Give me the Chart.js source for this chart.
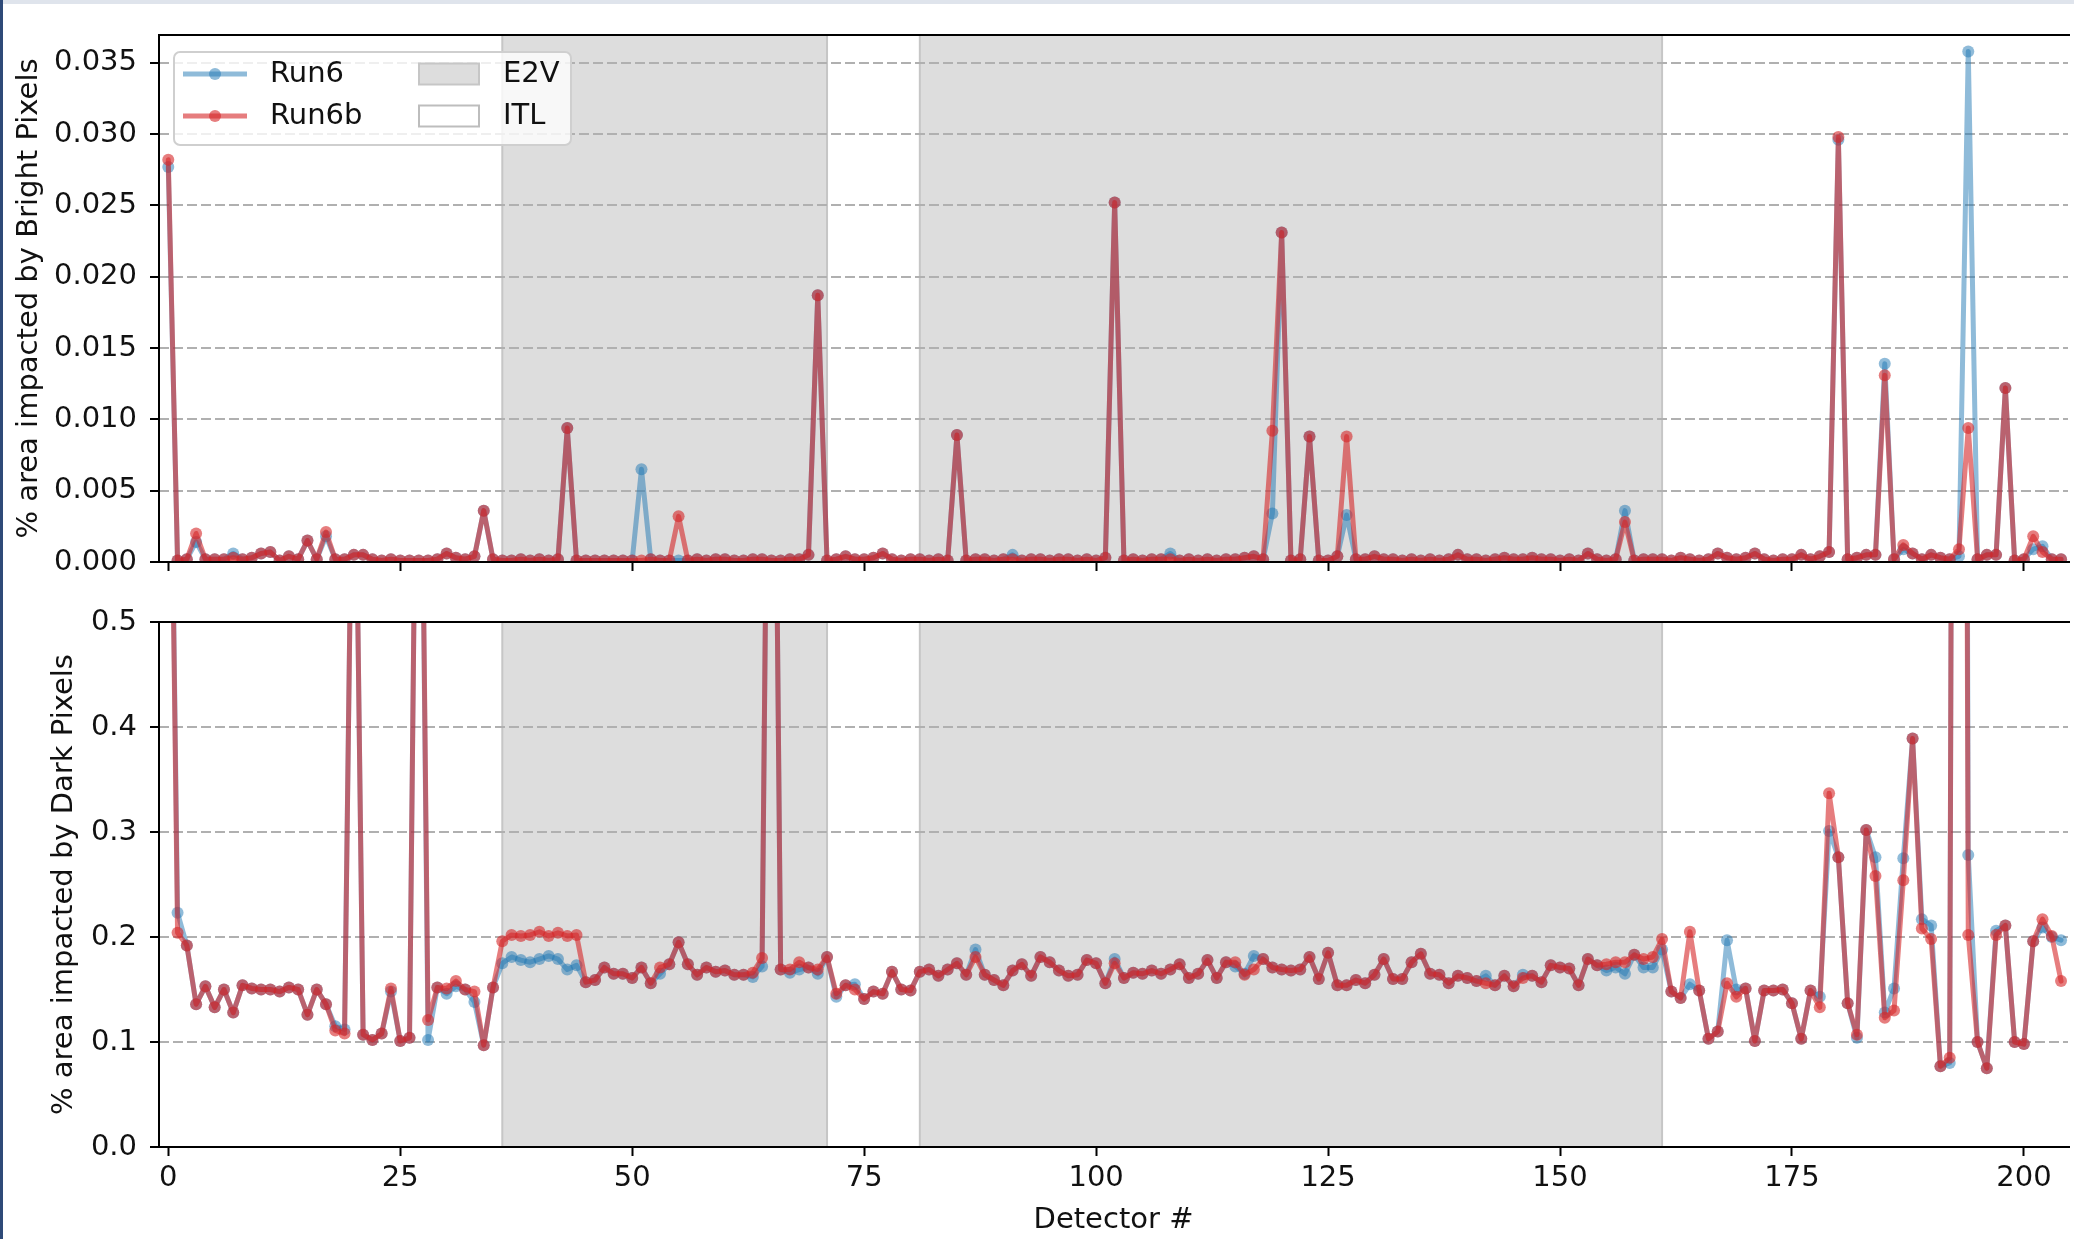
<!DOCTYPE html>
<html>
<head>
<meta charset="utf-8">
<script src="https://cdn.jsdelivr.net/npm/chart.js@4.4.1/dist/chart.umd.min.js"></script>
<style>
  html, body { margin: 0; padding: 0; background: #fff; }
  body { width: 2074px; height: 1239px; position: relative; overflow: hidden; }
  canvas { position: absolute; left: 0; }
  #top { top: 0; }
  #bottom { top: 591px; }
  #edgeTop { position: absolute; left: 0; top: 0; width: 2074px; height: 4px; background: #dfe4ec; }
  #edgeLeft { position: absolute; left: 0; top: 0; width: 3px; height: 1239px; background: #2e4a78; }
</style>
</head>
<body>
<canvas id="top" width="2074" height="582"></canvas>
<canvas id="bottom" width="2074" height="648"></canvas>
<div id="edgeTop"></div>
<div id="edgeLeft"></div>
<script>
// detector index 0..204
const detectors = []
for (let i = 0; i <= 204; i++) detectors.push(i)

const seriesNames = ['Run6', 'Run6b']

// % area impacted by bright pixels
const brightRun6 = [
  0.0277, 0.0001, 0.0002, 0.0014, 0.0002, 0.0002, 0.0002, 0.0006, 0.0002, 0.0003,
  0.0006, 0.0007, 0.0001, 0.0004, 0.0002, 0.0015, 0.0002, 0.0018, 0.0002, 0.0002,
  0.0005, 0.0005, 0.0002, 0.0001, 0.0002, 0.0001, 0.0001, 0.0001, 0.0001, 0.0002,
  0.0006, 0.0003, 0.0002, 0.0004, 0.0036, 0.0002, 0.0001, 0.0001, 0.0002, 0.0001,
  0.0002, 0.0001, 0.0002, 0.0094, 0.0001, 0.0001, 0.0001, 0.0001, 0.0001, 0.0001,
  0.0001, 0.0065, 0.0002, 0.0001, 0.0001, 0.0001, 0.0001, 0.0002, 0.0001, 0.0002,
  0.0002, 0.0001, 0.0001, 0.0002, 0.0002, 0.0001, 0.0001, 0.0002, 0.0002, 0.0005,
  0.0187, 0.0001, 0.0002, 0.0004, 0.0002, 0.0002, 0.0003, 0.0006, 0.0002, 0.0001,
  0.0002, 0.0002, 0.0001, 0.0002, 0.0001, 0.0089, 0.0001, 0.0002, 0.0002, 0.0001,
  0.0002, 0.0005, 0.0001, 0.0002, 0.0002, 0.0001, 0.0002, 0.0002, 0.0001, 0.0002,
  0.0001, 0.0003, 0.0252, 0.0001, 0.0002, 0.0001, 0.0002, 0.0002, 0.0006, 0.0001,
  0.0002, 0.0001, 0.0002, 0.0001, 0.0002, 0.0002, 0.0003, 0.0004, 0.0002, 0.0034,
  0.0231, 0.0001, 0.0002, 0.0088, 0.0001, 0.0001, 0.0004, 0.0033, 0.0002, 0.0002,
  0.0004, 0.0002, 0.0002, 0.0001, 0.0002, 0.0001, 0.0002, 0.0001, 0.0002, 0.0005,
  0.0002, 0.0002, 0.0001, 0.0002, 0.0003, 0.0002, 0.0002, 0.0003, 0.0002, 0.0002,
  0.0001, 0.0002, 0.0001, 0.0006, 0.0002, 0.0001, 0.0002, 0.0036, 0.0001, 0.0002,
  0.0002, 0.0002, 0.0001, 0.0003, 0.0002, 0.0001, 0.0002, 0.0006, 0.0003, 0.0002,
  0.0003, 0.0006, 0.0002, 0.0001, 0.0002, 0.0002, 0.0005, 0.0002, 0.0004, 0.0007,
  0.0296, 0.0002, 0.0003, 0.0005, 0.0005, 0.0139, 0.0002, 0.0009, 0.0006, 0.0002,
  0.0005, 0.0003, 0.0002, 0.0004, 0.0358, 0.0002, 0.0005, 0.0005, 0.0122, 0.0001,
  0.0002, 0.0009, 0.0011, 0.0002, 0.0002
]
const brightRun6b = [
  0.0282, 0.0001, 0.0002, 0.0020, 0.0002, 0.0002, 0.0002, 0.0003, 0.0002, 0.0003,
  0.0006, 0.0007, 0.0001, 0.0004, 0.0002, 0.0015, 0.0002, 0.0021, 0.0002, 0.0002,
  0.0005, 0.0005, 0.0002, 0.0001, 0.0002, 0.0001, 0.0001, 0.0001, 0.0001, 0.0002,
  0.0006, 0.0003, 0.0002, 0.0004, 0.0036, 0.0002, 0.0001, 0.0001, 0.0002, 0.0001,
  0.0002, 0.0001, 0.0002, 0.0094, 0.0001, 0.0001, 0.0001, 0.0001, 0.0001, 0.0001,
  0.0001, 0.0001, 0.0002, 0.0001, 0.0001, 0.0032, 0.0001, 0.0002, 0.0001, 0.0002,
  0.0002, 0.0001, 0.0001, 0.0002, 0.0002, 0.0001, 0.0001, 0.0002, 0.0002, 0.0005,
  0.0187, 0.0001, 0.0002, 0.0004, 0.0002, 0.0002, 0.0003, 0.0006, 0.0002, 0.0001,
  0.0002, 0.0002, 0.0001, 0.0002, 0.0001, 0.0089, 0.0001, 0.0002, 0.0002, 0.0001,
  0.0002, 0.0002, 0.0001, 0.0002, 0.0002, 0.0001, 0.0002, 0.0002, 0.0001, 0.0002,
  0.0001, 0.0003, 0.0252, 0.0001, 0.0002, 0.0001, 0.0002, 0.0002, 0.0002, 0.0001,
  0.0002, 0.0001, 0.0002, 0.0001, 0.0002, 0.0002, 0.0003, 0.0004, 0.0002, 0.0092,
  0.0231, 0.0001, 0.0002, 0.0088, 0.0001, 0.0001, 0.0004, 0.0088, 0.0002, 0.0002,
  0.0004, 0.0002, 0.0002, 0.0001, 0.0002, 0.0001, 0.0002, 0.0001, 0.0002, 0.0005,
  0.0002, 0.0002, 0.0001, 0.0002, 0.0003, 0.0002, 0.0002, 0.0003, 0.0002, 0.0002,
  0.0001, 0.0002, 0.0001, 0.0006, 0.0002, 0.0001, 0.0002, 0.0028, 0.0001, 0.0002,
  0.0002, 0.0002, 0.0001, 0.0003, 0.0002, 0.0001, 0.0002, 0.0006, 0.0003, 0.0002,
  0.0003, 0.0006, 0.0002, 0.0001, 0.0002, 0.0002, 0.0005, 0.0002, 0.0004, 0.0007,
  0.0298, 0.0002, 0.0003, 0.0005, 0.0005, 0.0131, 0.0002, 0.0012, 0.0006, 0.0002,
  0.0005, 0.0003, 0.0002, 0.0009, 0.0094, 0.0002, 0.0005, 0.0005, 0.0122, 0.0001,
  0.0002, 0.0018, 0.0007, 0.0002, 0.0002
]

// % area impacted by dark pixels (values above 0.5 run off the top of the panel)
const darkRun6 = [
  0.90, 0.223, 0.192, 0.136, 0.153, 0.133, 0.150, 0.128, 0.154, 0.151,
  0.150, 0.150, 0.148, 0.152, 0.150, 0.126, 0.150, 0.136, 0.115, 0.112,
  0.80, 0.107, 0.102, 0.108, 0.148, 0.101, 0.104, 0.95, 0.102, 0.152,
  0.146, 0.153, 0.150, 0.138, 0.097, 0.152, 0.175, 0.181, 0.178, 0.176,
  0.179, 0.182, 0.179, 0.169, 0.173, 0.157, 0.159, 0.171, 0.165, 0.165,
  0.161, 0.171, 0.156, 0.165, 0.174, 0.195, 0.174, 0.164, 0.171, 0.167,
  0.168, 0.164, 0.164, 0.162, 0.172, 1.10, 0.169, 0.166, 0.169, 0.171,
  0.165, 0.181, 0.143, 0.154, 0.155, 0.141, 0.148, 0.146, 0.167, 0.150,
  0.149, 0.167, 0.169, 0.163, 0.169, 0.175, 0.164, 0.188, 0.164, 0.159,
  0.154, 0.168, 0.174, 0.163, 0.181, 0.176, 0.168, 0.163, 0.164, 0.178,
  0.175, 0.156, 0.179, 0.161, 0.166, 0.165, 0.168, 0.165, 0.169, 0.174,
  0.161, 0.165, 0.178, 0.161, 0.176, 0.172, 0.165, 0.182, 0.179, 0.171,
  0.169, 0.168, 0.169, 0.181, 0.160, 0.185, 0.154, 0.154, 0.159, 0.156,
  0.164, 0.179, 0.160, 0.160, 0.176, 0.184, 0.165, 0.164, 0.156, 0.163,
  0.161, 0.158, 0.163, 0.154, 0.163, 0.153, 0.164, 0.163, 0.157, 0.173,
  0.171, 0.170, 0.154, 0.179, 0.173, 0.168, 0.171, 0.165, 0.183, 0.171,
  0.171, 0.188, 0.148, 0.142, 0.155, 0.149, 0.103, 0.110, 0.197, 0.150,
  0.151, 0.101, 0.149, 0.149, 0.150, 0.137, 0.103, 0.149, 0.143, 0.301,
  0.276, 0.137, 0.104, 0.302, 0.276, 0.128, 0.151, 0.275, 0.389, 0.217,
  0.211, 0.077, 0.080, 3.0, 0.278, 0.100, 0.075, 0.206, 0.211, 0.100,
  0.098, 0.196, 0.209, 0.200, 0.197
]
const darkRun6b = [
  0.90, 0.204, 0.192, 0.136, 0.153, 0.133, 0.150, 0.128, 0.154, 0.151,
  0.150, 0.150, 0.148, 0.152, 0.150, 0.126, 0.150, 0.136, 0.111, 0.108,
  0.80, 0.107, 0.102, 0.108, 0.151, 0.101, 0.104, 0.95, 0.121, 0.152,
  0.151, 0.158, 0.150, 0.148, 0.097, 0.152, 0.196, 0.202, 0.201, 0.202,
  0.205, 0.201, 0.204, 0.201, 0.202, 0.157, 0.159, 0.171, 0.165, 0.165,
  0.161, 0.171, 0.156, 0.171, 0.174, 0.195, 0.174, 0.164, 0.171, 0.167,
  0.168, 0.164, 0.164, 0.166, 0.180, 1.10, 0.169, 0.169, 0.176, 0.171,
  0.169, 0.181, 0.146, 0.154, 0.150, 0.141, 0.148, 0.146, 0.167, 0.150,
  0.149, 0.167, 0.169, 0.163, 0.169, 0.175, 0.164, 0.181, 0.164, 0.159,
  0.154, 0.168, 0.174, 0.163, 0.181, 0.176, 0.168, 0.163, 0.164, 0.178,
  0.175, 0.156, 0.175, 0.161, 0.166, 0.165, 0.168, 0.165, 0.169, 0.174,
  0.161, 0.165, 0.178, 0.161, 0.176, 0.176, 0.164, 0.169, 0.179, 0.171,
  0.169, 0.168, 0.169, 0.181, 0.160, 0.185, 0.154, 0.154, 0.159, 0.156,
  0.164, 0.179, 0.160, 0.160, 0.176, 0.184, 0.165, 0.164, 0.156, 0.163,
  0.161, 0.158, 0.156, 0.154, 0.163, 0.153, 0.161, 0.163, 0.157, 0.173,
  0.171, 0.170, 0.154, 0.179, 0.173, 0.174, 0.176, 0.176, 0.183, 0.179,
  0.181, 0.198, 0.148, 0.142, 0.205, 0.149, 0.103, 0.110, 0.156, 0.143,
  0.151, 0.101, 0.149, 0.149, 0.150, 0.137, 0.103, 0.149, 0.133, 0.337,
  0.276, 0.137, 0.107, 0.302, 0.258, 0.123, 0.130, 0.254, 0.389, 0.208,
  0.198, 0.077, 0.085, 3.0, 0.202, 0.100, 0.075, 0.202, 0.211, 0.100,
  0.098, 0.196, 0.217, 0.201, 0.158
]

// E2V detector ranges (shaded), the rest are ITL
const e2vStart = [36, 81]
const e2vEnd = [71, 161]

const xTicks = [0, 25, 50, 75, 100, 125, 150, 175, 200]
const brightTicks = [0, 0.005, 0.010, 0.015, 0.020, 0.025, 0.030, 0.035]
const darkTicks = [0, 0.1, 0.2, 0.3, 0.4, 0.5]

const blue = 'rgba(31,119,180,0.5)'
const red = 'rgba(214,39,40,0.6)'
const fontName = '"DejaVu Sans", "Liberation Sans", sans-serif'

Chart.defaults.font.family = fontName
Chart.defaults.font.size = 29
Chart.defaults.color = '#111'

function pts(vals) {
    return detectors.map((d, i) => ({ x: d, y: vals[i] }))
}

function makeSet(label, vals, color, order) {
    return {
        label: label,
        data: pts(vals),
        borderColor: color,
        backgroundColor: color,
        pointBackgroundColor: color,
        borderWidth: 5,
        pointRadius: 6,
        pointBorderWidth: 0,
        pointHoverRadius: 6,
        tension: 0,
        borderJoinStyle: 'round',
        borderCapStyle: 'round',
        clip: 0,
        order: order
    }
}

const shadePlugin = {
    id: 'shade',
    beforeDraw(chart) {
        const ctx = chart.ctx
        const a = chart.chartArea
        const x = chart.scales.x
        ctx.save()
        for (let i = 0; i < e2vStart.length; i++) {
            const x0 = x.getPixelForValue(e2vStart[i])
            const x1 = x.getPixelForValue(e2vEnd[i])
            ctx.fillStyle = '#dddddd'
            ctx.fillRect(x0, a.top, x1 - x0, a.bottom - a.top)
            ctx.strokeStyle = '#c6c6c6'
            ctx.lineWidth = 2
            ctx.beginPath()
            ctx.moveTo(x0, a.top); ctx.lineTo(x0, a.bottom)
            ctx.moveTo(x1, a.top); ctx.lineTo(x1, a.bottom)
            ctx.stroke()
        }
        ctx.restore()
    }
}

function drawLegend(ctx) {
    ctx.save()
    // box
    const bx = 174, by = 52, bw = 397, bh = 93, r = 6
    ctx.beginPath()
    ctx.moveTo(bx + r, by)
    ctx.arcTo(bx + bw, by, bx + bw, by + bh, r)
    ctx.arcTo(bx + bw, by + bh, bx, by + bh, r)
    ctx.arcTo(bx, by + bh, bx, by, r)
    ctx.arcTo(bx, by, bx + bw, by, r)
    ctx.closePath()
    ctx.fillStyle = 'rgba(255,255,255,0.8)'
    ctx.fill()
    ctx.strokeStyle = '#cfcfcf'
    ctx.lineWidth = 2
    ctx.stroke()

    const rows = [74, 116]
    const colors = [blue, red]
    ctx.font = '29px ' + fontName
    ctx.textBaseline = 'middle'
    for (let i = 0; i < 2; i++) {
        const y = rows[i]
        ctx.strokeStyle = colors[i]
        ctx.lineWidth = 5
        ctx.beginPath(); ctx.moveTo(183, y); ctx.lineTo(247, y); ctx.stroke()
        ctx.fillStyle = colors[i]
        ctx.beginPath(); ctx.arc(215, y, 6, 0, Math.PI * 2); ctx.fill()
        ctx.fillStyle = '#111'
        ctx.fillText(seriesNames[i], 270, y)
    }
    // patches
    ctx.lineWidth = 2
    ctx.fillStyle = '#dddddd'; ctx.strokeStyle = '#c6c6c6'
    ctx.fillRect(419, rows[0] - 10.5, 60, 21); ctx.strokeRect(419, rows[0] - 10.5, 60, 21)
    ctx.fillStyle = '#ffffff'; ctx.strokeStyle = '#bdbdbd'
    ctx.fillRect(419, rows[1] - 10.5, 60, 21); ctx.strokeRect(419, rows[1] - 10.5, 60, 21)
    ctx.fillStyle = '#111'
    ctx.fillText('E2V', 503, rows[0])
    ctx.fillText('ITL', 503, rows[1])
    ctx.restore()
}

const framePlugin = {
    id: 'frame',
    afterDraw(chart) {
        const ctx = chart.ctx
        const a = chart.chartArea
        ctx.save()
        ctx.strokeStyle = '#000'
        ctx.lineWidth = 2
        ctx.beginPath()
        ctx.moveTo(a.right + 2, a.top)
        ctx.lineTo(a.left, a.top)
        ctx.lineTo(a.left, a.bottom)
        ctx.lineTo(a.right + 2, a.bottom)
        ctx.stroke()
        ctx.restore()
        if (chart.canvas.id === 'top') drawLegend(ctx)
    }
}

function makeChart(id, vals6, vals6b, yMax, yTicks, digits, yTitle, titlePad, padTop, xHeight, showX) {
    return new Chart(document.getElementById(id), {
        type: 'line',
        data: {
            datasets: [
                makeSet(seriesNames[0], vals6, blue, 2),
                makeSet(seriesNames[1], vals6b, red, 1)
            ]
        },
        options: {
            responsive: false,
            animation: false,
            events: [],
            layout: { padding: { top: padTop, left: 0, right: 0, bottom: 0 } },
            plugins: { legend: { display: false }, tooltip: { enabled: false } },
            scales: {
                x: {
                    type: 'linear',
                    min: -1,
                    max: 204.75,
                    afterBuildTicks: s => { s.ticks = xTicks.map(v => ({ value: v })) },
                    afterFit: s => { s.height = xHeight; s.paddingLeft = 0; s.paddingRight = 0 },
                    ticks: {
                        autoSkip: false,
                        maxRotation: 0,
                        padding: 5,
                        callback: v => showX ? String(v) : ''
                    },
                    grid: { drawOnChartArea: false, drawTicks: true, tickLength: 9, tickWidth: 2, tickColor: '#000' },
                    border: { display: false },
                    title: { display: showX, text: 'Detector #', padding: { top: 0, bottom: 1 } }
                },
                y: {
                    type: 'linear',
                    min: 0,
                    max: yMax,
                    afterBuildTicks: s => { s.ticks = yTicks.map(v => ({ value: v })) },
                    afterFit: s => { s.width = 159; s.paddingTop = 0; s.paddingBottom = 0 },
                    ticks: { padding: 13, callback: v => v.toFixed(digits) },
                    grid: { color: '#b0b0b0', lineWidth: 2, tickLength: 9, tickWidth: 2, tickColor: '#000' },
                    border: { display: false, dash: [10, 4] },
                    title: { display: true, text: yTitle, padding: { top: titlePad, bottom: 0 } }
                }
            }
        },
        plugins: [shadePlugin, framePlugin]
    })
}

makeChart('top', brightRun6, brightRun6b, 0.03695, brightTicks, 3,
    '% area impacted by Bright Pixels', 12, 35, 20, false)
makeChart('bottom', darkRun6, darkRun6b, 0.5, darkTicks, 1,
    '% area impacted by Dark Pixels', 47, 31, 92, true)
</script>
</body>
</html>
